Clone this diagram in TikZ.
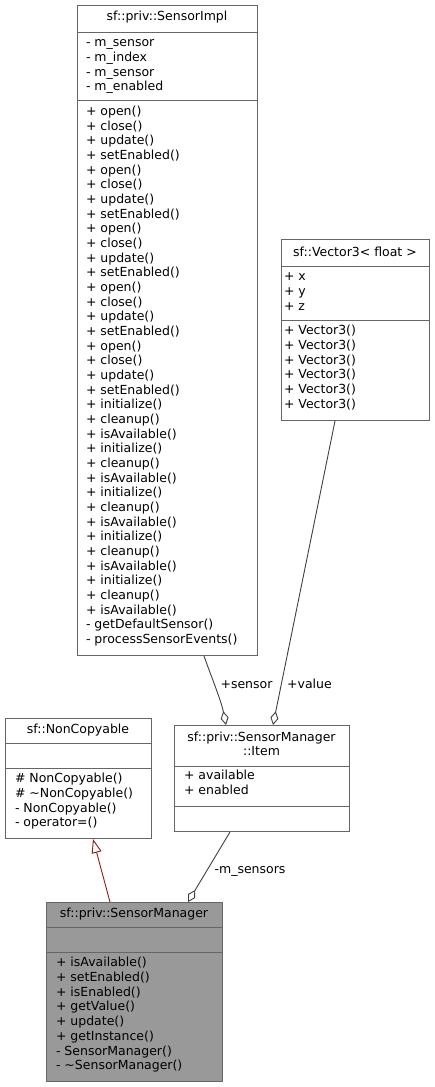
\documentclass[tikz,border=0pt]{standalone}
\usepackage{fontspec}
\setmainfont{DejaVu Sans}
\usetikzlibrary{arrows.meta,calc}
\definecolor{bordergray}{HTML}{666666}
\definecolor{mgrfill}{HTML}{999999}
\definecolor{edgegray}{HTML}{404040}
\definecolor{inhred}{HTML}{8B1A1A}
\tikzset{
  umlbox/.style={draw=bordergray, line width=1pt, fill=white, inner sep=0pt, anchor=north west},
  sepline/.style={draw=bordergray, line width=1pt},
  txt/.style={font=\fontsize{12.5}{14.67}\selectfont, inner sep=0pt, outer sep=0pt},
  titletext/.style={txt, anchor=base, align=center},
  memberlist/.style={txt, anchor=north west, align=left},
  usage/.style={draw=edgegray, line width=0.9pt, -{Diamond[open, length=14pt, width=8pt]}},
  inherit/.style={draw=inhred, line width=0.9pt, -{Triangle[open, length=14pt, width=10pt]}},
  edgelabel/.style={txt, anchor=base},
}
\begin{document}
\begin{tikzpicture}[x=1pt,y=-1pt]
\useasboundingbox (0,0) rectangle (435,1087);

% ---------- sf::priv::SensorImpl ----------
\node[umlbox, minimum width=180pt, minimum height=650pt] (impl) at (77,5) {};
\draw[sepline] (77,32) -- (257,32);
\draw[sepline] (77,100) -- (257,100);
\node[titletext] (implT) at (167,20.5) {sf::priv::SensorImpl};
\node[memberlist] (implA) at (86,36.7) {\strut - m\_sensor\\- m\_index\\- m\_sensor\\- m\_enabled};
\node[memberlist] (implM) at (86,105.2) {\strut + open()\\+ close()\\+ update()\\+ setEnabled()\\
+ open()\\+ close()\\+ update()\\+ setEnabled()\\
+ open()\\+ close()\\+ update()\\+ setEnabled()\\
+ open()\\+ close()\\+ update()\\+ setEnabled()\\
+ open()\\+ close()\\+ update()\\+ setEnabled()\\
+ initialize()\\+ cleanup()\\+ isAvailable()\\
+ initialize()\\+ cleanup()\\+ isAvailable()\\
+ initialize()\\+ cleanup()\\+ isAvailable()\\
+ initialize()\\+ cleanup()\\+ isAvailable()\\
+ initialize()\\+ cleanup()\\+ isAvailable()\\
- getDefaultSensor()\\- processSensorEvents()};

% ---------- sf::Vector3< float > ----------
\node[umlbox, minimum width=148pt, minimum height=181pt] (vec) at (281,239) {};
\draw[sepline] (281,266) -- (429,266);
\draw[sepline] (281,320) -- (429,320);
\node[titletext] (vecT) at (355,256.5) {sf::Vector3< float >};
\node[memberlist] (vecA) at (284,270.7) {\strut + x\\+ y\\+ z};
\node[memberlist] (vecM) at (284,324.7) {\strut + Vector3()\\+ Vector3()\\+ Vector3()\\+ Vector3()\\+ Vector3()\\+ Vector3()};

% ---------- sf::NonCopyable ----------
\node[umlbox, minimum width=146pt, minimum height=120pt] (noncopy) at (5,718) {};
\draw[sepline] (5,743) -- (151,743);
\draw[sepline] (5,768) -- (151,768);
\node[titletext] (noncopyT) at (78,733) {sf::NonCopyable};
\node[memberlist] (noncopyM) at (15,772.7) {\strut \# NonCopyable()\\\# \textasciitilde NonCopyable()\\- NonCopyable()\\- operator=()};

% ---------- sf::priv::SensorManager::Item ----------
\node[umlbox, minimum width=175pt, minimum height=106pt] (item) at (174,725) {};
\draw[sepline] (174,766) -- (349,766);
\draw[sepline] (174,806) -- (349,806);
\node[titletext] (itemT) at (261.5,755.7) {sf::priv::SensorManager\\::Item};
\node[memberlist] (itemA) at (184,769.7) {\strut + available\\+ enabled};

% ---------- sf::priv::SensorManager ----------
\node[umlbox, fill=mgrfill, minimum width=176pt, minimum height=179pt] (mgr) at (46,902) {};
\draw[sepline] (46,927) -- (222,927);
\draw[sepline] (46,952) -- (222,952);
\node[titletext] (mgrT) at (134,917) {sf::priv::SensorManager};
\node[memberlist] (mgrM) at (56,956.7) {\strut + isAvailable()\\+ setEnabled()\\+ isEnabled()\\+ getValue()\\+ update()\\+ getInstance()\\- SensorManager()\\- \textasciitilde SensorManager()};

% ---------- connectors ----------
\coordinate (implOut) at ($(impl.south west)+(127,0)$);
\coordinate (itemInS) at ($(item.north west)+(52,0)$);
\coordinate (vecOut) at ($(vec.south west)+(54,0)$);
\coordinate (itemInV) at ($(item.north west)+(99,0)$);
\coordinate (itemOut) at ($(item.south west)+(56,0)$);
\coordinate (mgrInU) at ($(mgr.north west)+(142,0)$);
\coordinate (mgrOut) at ($(mgr.north west)+(64,0)$);
\coordinate (noncopyIn) at ($(noncopy.south west)+(88,0)$);

\draw[usage] (implOut) .. controls (211,676) and (221,700) .. (itemInS);
\draw[usage] (vecOut) -- (itemInV);
\draw[usage] (itemOut) -- (mgrInU);
\draw[inherit] (mgrOut) -- (noncopyIn);

\node[edgelabel] (lblSensor) at (246.5,688) {+sensor};
\node[edgelabel] (lblValue) at (309.5,688) {+value};
\node[edgelabel] (lblMsensors) at (250,873) {-m\_sensors};
\end{tikzpicture}
\end{document}
